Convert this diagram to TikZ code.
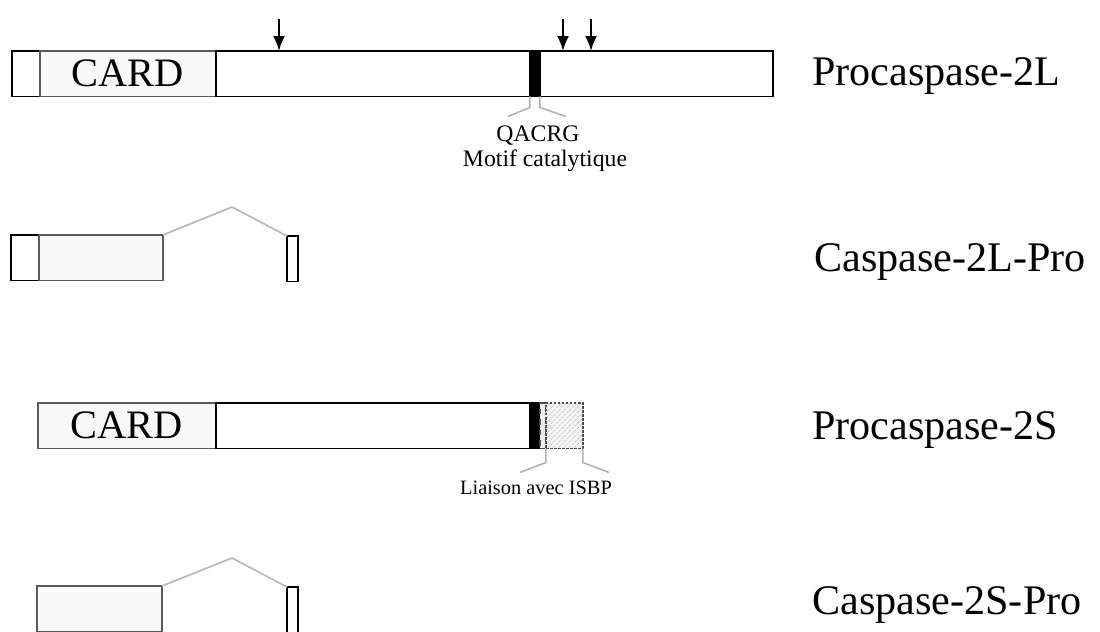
\documentclass[tikz,border=0pt]{standalone}
\usepackage{fontspec}
\setmainfont{Liberation Serif}
\usetikzlibrary{arrows.meta,positioning,patterns,calc}
\tikzset{
    segbox/.style={draw, line width=1.1pt, anchor=north west, inner sep=0pt,
        outer sep=0pt, minimum height=0.91cm},
    cardbox/.style={segbox, fill=gray!5, draw=black!65},
    catbox/.style={segbox, fill=black, minimum width=0.2cm},
    exonbox/.style={segbox, minimum width=0.22cm},
    isbpbox/.style={segbox, draw=black!70, dash pattern=on 1.5pt off 0.8pt,
        pattern=north east lines, pattern color=gray!45, preaction={fill=gray!8}},
    cutarrow/.style={-{Latex[length=3mm,width=2.4mm]}, line width=1.2pt},
    spliceline/.style={gray!55, line width=1pt},
    bracketline/.style={gray!60, line width=0.9pt},
    protname/.style={anchor=base west, font=\fontsize{24}{26}\selectfont},
    cardname/.style={font=\fontsize{23}{24}\selectfont},
    smalllab/.style={anchor=base, font=\fontsize{13.5}{15}\selectfont}
}

\begin{document}
\begin{tikzpicture}[x=0.02cm, y=-0.02cm]
\useasboundingbox (0,0) rectangle (1100,632);
% Procaspase-2L
\node[segbox, minimum width=0.56cm] (pro1) at (12,51) {};
\node[cardbox, cardname, minimum width=3.52cm] (card1) at (pro1.north east) {CARD};
\node[segbox, minimum width=6.28cm] (mid1) at (card1.north east) {};
\node[catbox] (cat1) at (mid1.north east) {};
\node[segbox, minimum width=4.66cm] (right1) at (cat1.north east) {};
\coordinate (cutA) at (279,19);
\coordinate (cutB) at (563,19);
\coordinate (cutC) at (591,19);
\draw[cutarrow] (cutA) -- (cutA |- mid1.north);
\draw[cutarrow] (cutB) -- (cutB |- right1.north);
\draw[cutarrow] (cutC) -- (cutC |- right1.north);
\draw[bracketline] (cat1.south west) -- ++(0,11) -- ++(-22,9);
\draw[bracketline] (cat1.south east) -- ++(0,11) -- ++(26,9);
\node[smalllab] (qacrg) at (538,141) {QACRG};
\node[smalllab] (motif) at ($(qacrg.base)+(7,25)$) {Motif catalytique};
% Caspase-2L-Pro
\node[segbox, minimum width=0.56cm] (pro2) at (11,235) {};
\node[cardbox, minimum width=2.48cm] (card2) at (pro2.north east) {};
\node[exonbox] (exon2) at (287,236) {};
\coordinate (apex2) at (232,207);
\draw[spliceline] (card2.north east) -- (apex2) -- (exon2.north west);
% Procaspase-2S
\node[cardbox, cardname, minimum width=3.56cm] (card3) at (38,403) {CARD};
\node[segbox, minimum width=6.28cm] (mid3) at (card3.north east) {};
\node[catbox] (cat3) at (mid3.north east) {};
\node[segbox, minimum width=0.12cm, fill=gray!15, draw=black!70, dashed] (link3) at (cat3.north east) {};
\node[isbpbox, minimum width=0.74cm] (isbp3) at (link3.north east) {};
\draw[bracketline] (isbp3.south west) -- ++(0,14) -- ++(-26,10);
\draw[bracketline] (isbp3.south east) -- ++(0,14) -- ++(26,10);
\node[smalllab, font=\fontsize{11.6}{13}\selectfont] (isbplab) at (536,494) {Liaison avec ISBP};
% Caspase-2S-Pro
\node[cardbox, minimum width=2.5cm] (card4) at (37,586) {};
\node[exonbox] (exon4) at (287,587) {};
\coordinate (apex4) at (232,558);
\draw[spliceline] (card4.north east) -- (apex4) -- (exon4.north west);
% names
\node[protname] (name1) at (806,85) {Procaspase-2L};
\node[protname] (name2) at (808,271) {Caspase-2L-Pro};
\node[protname] (name3) at (806,439) {Procaspase-2S};
\node[protname] (name4) at (806,614) {Caspase-2S-Pro};
\end{tikzpicture}
\end{document}
